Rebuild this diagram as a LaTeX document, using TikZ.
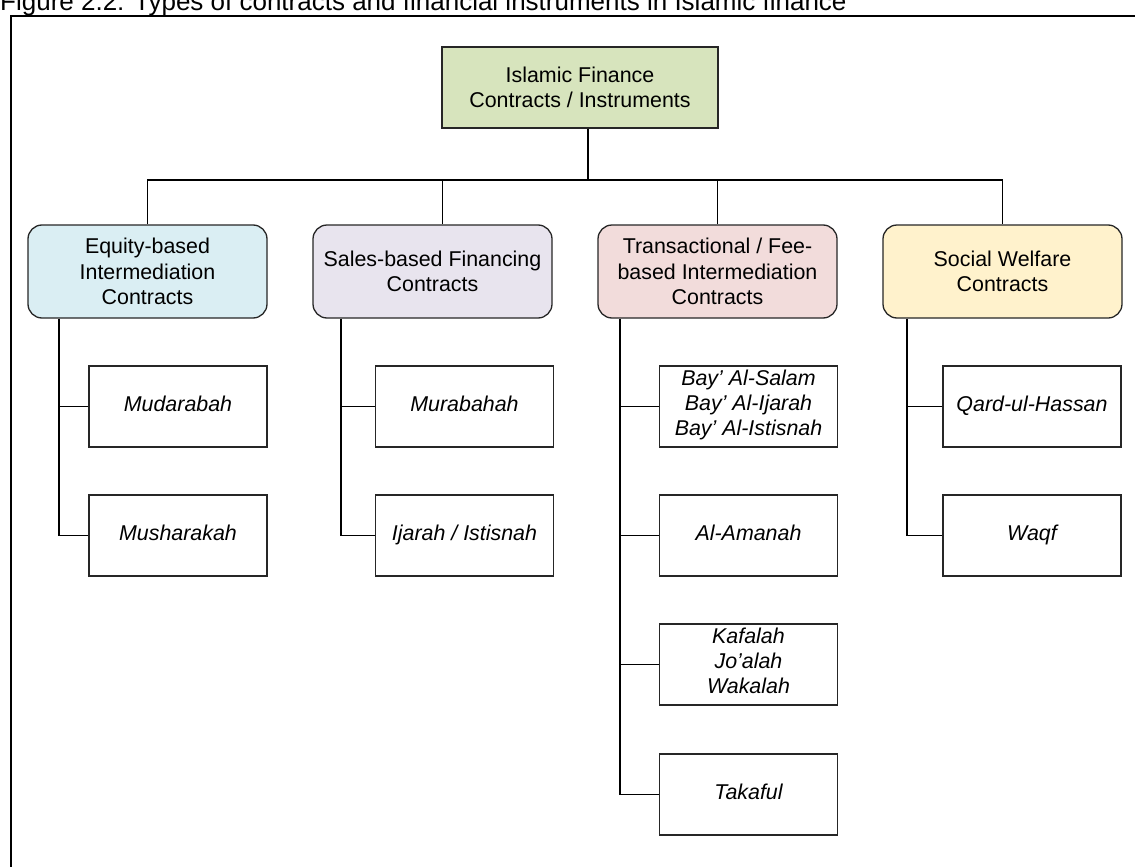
\documentclass[tikz,border=0pt]{standalone}
\usepackage{fontspec}
\setmainfont{Liberation Sans}
\definecolor{topfill}{HTML}{D7E4BD}
\definecolor{eqfill}{HTML}{DAEEF3}
\definecolor{safill}{HTML}{E8E4EE}
\definecolor{trfill}{HTML}{F2DCDB}
\definecolor{sofill}{HTML}{FFF2CC}
\definecolor{edge}{HTML}{262626}
\begin{document}
\begin{tikzpicture}[x=1pt,y=-1pt,
  every node/.style={font=\fontsize{21.4}{25.3}\selectfont, align=center, inner sep=0pt},
  topbox/.style={draw=edge, line width=1.3pt, fill=topfill, minimum width=276pt, minimum height=81pt},
  catbox/.style={draw=edge, line width=1.3pt, rounded corners=14pt, minimum width=239pt, minimum height=93pt},
  leafbox/.style={draw=edge, line width=1.3pt, fill=white, minimum width=178pt, minimum height=81pt,
    font=\fontsize{21.4}{25.3}\selectfont\itshape,
    execute at begin node=\strut, execute at end node=\strut},
  link/.style={draw=black, line width=1.2pt}]
\useasboundingbox (0,0) rectangle (1135,867);

% caption and frame
\node[anchor=base west, font=\fontsize{26}{30}\selectfont] (caption) at (0,11) {Figure 2.2: Types of contracts and financial instruments in Islamic finance};
\draw[line width=2pt] (11,880) -- (11,16) -- (1150,16);

% root
\node[topbox] (root) at (580,87.5) {Islamic Finance\\Contracts / Instruments};

% categories
\node[catbox, fill=eqfill] (eq) at (147.5,271.5) {Equity-based\\Intermediation\\Contracts};
\node[catbox, fill=safill] (sa) at (432.5,271.5) {Sales-based Financing\\Contracts};
\node[catbox, fill=trfill] (tr) at (717.5,271.5) {Transactional / Fee-\\based Intermediation\\Contracts};
\node[catbox, fill=sofill] (so) at (1002.5,271.5) {Social Welfare\\Contracts};

% instruments
\node[leafbox] (e1) at (178,406.5) {Mudarabah};
\node[leafbox] (e2) at (178,535.5) {Musharakah};
\node[leafbox] (s1) at (464.5,406.5) {Murabahah};
\node[leafbox] (s2) at (464.5,535.5) {Ijarah / Istisnah};
\node[leafbox] (t1) at (748.5,406.5) {Bay’ Al-Salam\\Bay’ Al-Ijarah\\Bay’ Al-Istisnah};
\node[leafbox] (t2) at (748.5,535.5) {Al-Amanah};
\node[leafbox] (t3) at (748.5,664.5) {Kafalah\\Jo’alah\\Wakalah};
\node[leafbox] (t4) at (748.5,794.5) {Takaful};
\node[leafbox] (w1) at (1032,406.5) {Qard-ul-Hassan};
\node[leafbox] (w2) at (1032,535.5) {Waqf};

% bus from root to categories
\coordinate (bus) at (0,180);
\draw[link] ([xshift=8pt]root.south) -- ([xshift=8pt]root.south |- bus);
\draw[link] (eq.north) -- (eq.north |- bus) -- (so.north |- bus) -- (so.north);
\draw[link] ([xshift=10pt]sa.north) -- ([xshift=10pt]sa.north |- bus);
\draw[link] (tr.north) -- (tr.north |- bus);

% branches from categories to instruments
\coordinate (ev) at (59,0);
\coordinate (sv) at (341,0);
\coordinate (tv) at (620,0);
\coordinate (wv) at (907,0);
\draw[link] (eq.south -| ev) |- (e2.west);
\draw[link] (e1.west) -- (e1.west -| ev);
\draw[link] (sa.south -| sv) |- (s2.west);
\draw[link] (s1.west) -- (s1.west -| sv);
\draw[link] (tr.south -| tv) |- (t4.west);
\draw[link] (t1.west) -- (t1.west -| tv);
\draw[link] (t2.west) -- (t2.west -| tv);
\draw[link] (t3.west) -- (t3.west -| tv);
\draw[link] (so.south -| wv) |- (w2.west);
\draw[link] (w1.west) -- (w1.west -| wv);
\end{tikzpicture}
\end{document}
